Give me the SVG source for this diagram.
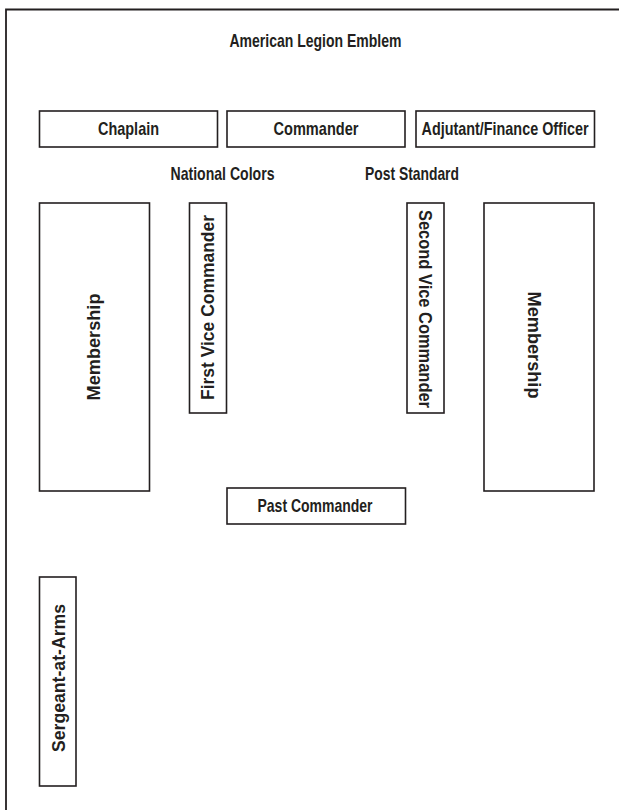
<svg xmlns="http://www.w3.org/2000/svg" width="619" height="810" viewBox="0 0 619 810">
<style>
.box{fill:#fff;stroke:#231f20;stroke-width:1.6}
.frame{fill:none;stroke:#231f20;stroke-width:1.8}
.h{font-family:"Liberation Sans","Noto Sans",sans-serif;font-weight:bold;font-size:18.5px;fill:#231f20;text-anchor:middle}
.v{font-family:"Liberation Sans","Noto Sans",sans-serif;font-weight:bold;font-size:19px;fill:#231f20;text-anchor:middle}
</style>
<rect width="619" height="810" fill="#fff"/>
<path class="frame" d="M6 810 V9.5 H619"/>
<g id="title"><text class="h" x="315.5" y="46.5" textLength="172" lengthAdjust="spacingAndGlyphs">American Legion Emblem</text></g>
<g id="chaplain"><rect class="box" x="39.5" y="111" width="178" height="36"/><text class="h" x="128.5" y="134.5" textLength="61" lengthAdjust="spacingAndGlyphs">Chaplain</text></g>
<g id="commander"><rect class="box" x="227" y="111" width="178" height="36"/><text class="h" x="316" y="134.5" textLength="85" lengthAdjust="spacingAndGlyphs">Commander</text></g>
<g id="adjutant"><rect class="box" x="416" y="111" width="178.5" height="36"/><text class="h" x="505" y="134.5" textLength="167" lengthAdjust="spacingAndGlyphs">Adjutant/Finance Officer</text></g>
<g id="national-colors"><text class="h" x="222.5" y="180" textLength="104" lengthAdjust="spacingAndGlyphs">National Colors</text></g>
<g id="post-standard"><text class="h" x="412" y="180" textLength="94" lengthAdjust="spacingAndGlyphs">Post Standard</text></g>
<g id="membership-left"><rect class="box" x="39.5" y="203" width="110" height="288"/><text class="v" transform="translate(100 347) rotate(-90)" x="0" y="0" textLength="107" lengthAdjust="spacingAndGlyphs">Membership</text></g>
<g id="first-vice"><rect class="box" x="189.5" y="203" width="37" height="210"/><text class="v" transform="translate(213.5 307.5) rotate(-90)" x="0" y="0" textLength="185" lengthAdjust="spacingAndGlyphs">First Vice Commander</text></g>
<g id="second-vice"><rect class="box" x="407" y="203" width="37" height="210"/><text class="v" transform="translate(418.5 309) rotate(90)" x="0" y="0" textLength="198" lengthAdjust="spacingAndGlyphs">Second Vice Commander</text></g>
<g id="membership-right"><rect class="box" x="484" y="203" width="110" height="288"/><text class="v" transform="translate(528 345) rotate(90)" x="0" y="0" textLength="107" lengthAdjust="spacingAndGlyphs">Membership</text></g>
<g id="past-commander"><rect class="box" x="227" y="488" width="178.5" height="36"/><text class="h" x="315" y="511.5" textLength="115" lengthAdjust="spacingAndGlyphs">Past Commander</text></g>
<g id="sergeant"><rect class="box" x="39.5" y="577" width="36.5" height="209"/><text class="v" transform="translate(64.5 678) rotate(-90)" x="0" y="0" textLength="148" lengthAdjust="spacingAndGlyphs">Sergeant-at-Arms</text></g>
<g id="connectors"/>
</svg>
